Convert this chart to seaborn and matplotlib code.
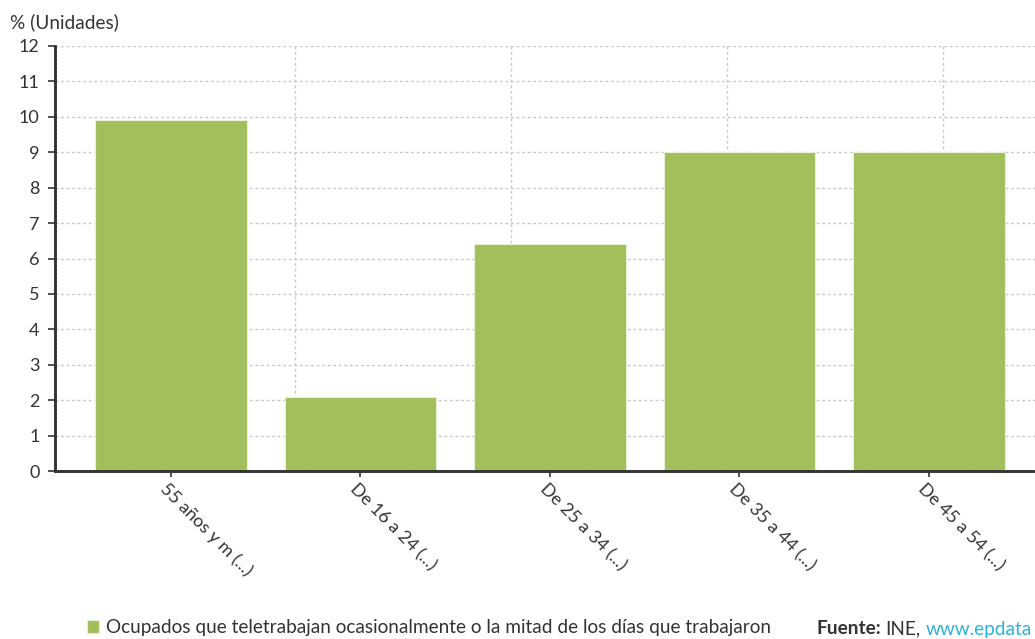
import matplotlib
matplotlib.use("Agg")
import matplotlib.pyplot as plt
import matplotlib.transforms as mtransforms
import seaborn as sns
import pandas as pd

# Data: share of employed people who telework occasionally, by age group
categories = ["55 años y m (...)", "De 16 a 24 (...)", "De 25 a 34 (...)",
              "De 35 a 44 (...)", "De 45 a 54 (...)"]
values = [9.9, 2.1, 6.4, 9.0, 9.0]
series_name = "Ocupados que teletrabajan ocasionalmente o la mitad de los días que trabajaron"
y_ticks = list(range(0, 13))

BAR_COLOR = "#a1bf5b"
TEXT_COLOR = "#333333"
GRID_COLOR = "#c8c8c8"
LINK_COLOR = "#2bb3d9"
FS = 13
FS_FOOT = 13.7

sns.set_theme(style="white")
plt.rcParams["font.family"] = ["Lato", "DejaVu Sans"]

W, H = 1035, 639
fig = plt.figure(figsize=(W / 100, H / 100), dpi=100)
ax = fig.add_axes([55 / W, 1 - 471 / H, (W - 55) / W, (471 - 46) / H])

df = pd.DataFrame({"grupo": categories, "valor": values})
sns.barplot(data=df, x="grupo", y="valor", order=categories, color=BAR_COLOR,
            saturation=1, width=0.8, edgecolor="#e8f0d8", linewidth=0.8,
            label=series_name, ax=ax, zorder=3)

ax.set_xlim(-0.612, 4.56)
ax.set_ylim(0, 12)
ax.set_yticks(y_ticks)
ax.set_xlabel("")
ax.set_ylabel("")

# dotted grid: horizontal at every unit, a few vertical guides
ax.grid(axis="y", color=GRID_COLOR, linestyle=(0, (2, 2)), linewidth=1, zorder=0)
ax.set_xticks([0.654, 1.794, 2.934, 4.074], minor=True)
ax.grid(axis="x", which="minor", color=GRID_COLOR, linestyle=(0, (2, 2)),
        linewidth=1, zorder=0)
ax.grid(axis="x", which="major", visible=False)
ax.set_axisbelow(True)

for side in ("top", "right"):
    ax.spines[side].set_visible(False)
for side in ("left", "bottom"):
    ax.spines[side].set_color(TEXT_COLOR)
    ax.spines[side].set_linewidth(2.0)
    ax.spines[side].set_linestyle((0, (0.8, 0.6)))
    ax.spines[side].set_zorder(4)

ax.tick_params(axis="y", which="major", left=True, length=5, width=1.2,
               color=TEXT_COLOR, labelsize=FS, labelcolor=TEXT_COLOR, pad=6)
ax.tick_params(axis="x", which="major", bottom=True, length=4, width=1.2,
               color=TEXT_COLOR, labelsize=FS, labelcolor=TEXT_COLOR, pad=7)
ax.tick_params(axis="x", which="minor", bottom=False, length=0)

ax.set_xticks(range(len(categories)))
ax.set_xticklabels(categories, rotation=-45, ha="left", va="center",
                   rotation_mode="anchor")
shift = mtransforms.ScaledTranslation(-8 / 100, 0, fig.dpi_scale_trans)
for lbl in ax.get_xticklabels():
    lbl.set_transform(lbl.get_transform() + shift)

fig.text(10 / W, 1 - 22 / H, "% (Unidades)", fontsize=FS_FOOT, color=TEXT_COLOR,
         ha="left", va="center")

leg = ax.legend(loc="center left", bbox_to_anchor=(87 / W, 1 - 628 / H),
                bbox_transform=fig.transFigure, frameon=False, fontsize=FS_FOOT,
                handlelength=0.65, handleheight=0.65, handletextpad=0.35,
                borderpad=0, borderaxespad=0)
for t in leg.get_texts():
    t.set_color(TEXT_COLOR)

# source line: bold label, plain text, link-coloured site, laid out in sequence
fy = 1 - 629 / H
fig.canvas.draw()
renderer = fig.canvas.get_renderer()
x_px = 816
parts = [("Fuente:", "bold", TEXT_COLOR, 5),
         ("INE,", "normal", TEXT_COLOR, 5),
         ("www.epdata", "normal", LINK_COLOR, 0)]
for text, weight, color, gap in parts:
    t = fig.text(x_px / W, fy, text, fontsize=FS_FOOT, fontweight=weight,
                 color=color, ha="left", va="center")
    bb = t.get_window_extent(renderer)
    x_px += bb.width + gap

fig.savefig("out.png", dpi=100)
